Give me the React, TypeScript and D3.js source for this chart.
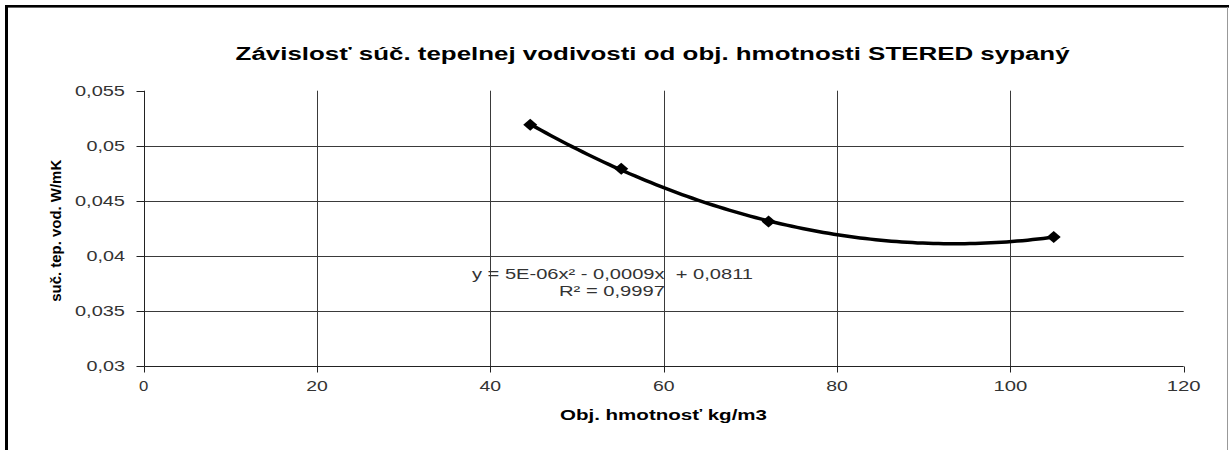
import React from "react";
import * as d3 from "d3";

const title = "Závislosť súč. tepelnej vodivosti od obj. hmotnosti STERED sypaný";
const xLabel = "Obj. hmotnosť kg/m3";
const yLabel = "suč. tep. vod. W/mK";
const xValues = [44.6, 55.1, 72.1, 105.0];
const yValues = [0.0519, 0.0479, 0.0431, 0.0417];
const xTicks = [0, 20, 40, 60, 80, 100, 120];
const yTicks = [0.03, 0.035, 0.04, 0.045, 0.05, 0.055];
const equationText = "y = 5E-06x² - 0,0009x  + 0,0811";
const r2Text = "R² = 0,9997";

function fitQuadratic(xs: number[], ys: number[]): [number, number, number] {
  const S = (f: (x: number, y: number) => number) =>
    xs.reduce((s, x, i) => s + f(x, ys[i]), 0);
  const n = xs.length;
  const sx = S((x) => x), sx2 = S((x) => x * x), sx3 = S((x) => x ** 3), sx4 = S((x) => x ** 4);
  const sy = S((_, y) => y), sxy = S((x, y) => x * y), sx2y = S((x, y) => x * x * y);
  const M = [
    [sx4, sx3, sx2, sx2y],
    [sx3, sx2, sx, sxy],
    [sx2, sx, n, sy],
  ];
  for (let i = 0; i < 3; i++) {
    let p = i;
    for (let r = i + 1; r < 3; r++) if (Math.abs(M[r][i]) > Math.abs(M[p][i])) p = r;
    [M[i], M[p]] = [M[p], M[i]];
    for (let r = 0; r < 3; r++) {
      if (r === i) continue;
      const f = M[r][i] / M[i][i];
      for (let c = i; c < 4; c++) M[r][c] -= f * M[i][c];
    }
  }
  return [M[0][3] / M[0][0], M[1][3] / M[1][1], M[2][3] / M[2][2]];
}

const fmt = (v: number) => String(+v.toFixed(3)).replace(".", ",");

export default function App() {
  const W = 1229, H = 450;
  const x = d3.scaleLinear().domain([0, 120]).range([143.7, 1183.7]);
  const y = d3.scaleLinear().domain([0.03, 0.055]).range([365.7, 90.7]);
  const [a, b, c] = fitQuadratic(xValues, yValues);
  const x0 = d3.min(xValues)!, x1 = d3.max(xValues)!;
  const curvePts = d3.range(0, 101).map((i) => {
    const xv = x0 + ((x1 - x0) * i) / 100;
    return [xv, a * xv * xv + b * xv + c] as [number, number];
  });
  const line = d3.line<[number, number]>().x((d) => x(d[0])).y((d) => y(d[1]));
  const font = "'Liberation Sans', Arial, sans-serif";
  const gridColor = "#3a3a3a";
  const top = y(0.055), bottom = y(0.03), left = x(0), right = x(120);
  const ax = Math.round(left) + 0.5;
  const ay = Math.round(bottom) + 0.5;
  const diamond = (cx: number, cy: number) =>
    `M${cx - 7},${cy} L${cx},${cy - 6} L${cx + 7},${cy} L${cx},${cy + 6} Z`;

  return (
    <svg
      width={W}
      height={H}
      style={{ position: "absolute", left: 0, top: 0, background: "#fff" }}
      fontFamily={font}
    >
      <rect x={0} y={0} width={W} height={H} fill="#fff" />
      <rect x={5} y={5} width={1224} height={2.6} fill="#000" />
      <rect x={5} y={5} width={3} height={445} fill="#000" />
      <rect x={1227} y={7} width={1} height={443} fill="#999" />

      <text x={652.6} y={60} textAnchor="middle" fontSize={17.5} fontWeight="bold" textLength={834} lengthAdjust="spacingAndGlyphs" fill="#000">
        {title}
      </text>

      {yTicks.filter((t) => t > 0.03 && t < 0.055).map((t) => {
        const yy = Math.round(y(t)) + 0.5;
        return <line key={"h" + t} x1={ax} x2={right} y1={yy} y2={yy} stroke={gridColor} strokeWidth={1} />;
      })}
      {xTicks.filter((t) => t > 0 && t < 120).map((t) => {
        const xx = Math.round(x(t)) + 0.5;
        return <line key={"v" + t} x1={xx} x2={xx} y1={top} y2={ay} stroke={gridColor} strokeWidth={1} />;
      })}

      <line x1={ax} x2={ax} y1={top} y2={ay} stroke="#222" strokeWidth={1} />
      <line x1={ax} x2={right} y1={ay} y2={ay} stroke="#222" strokeWidth={1} />
      {yTicks.map((t) => {
        const yy = Math.round(y(t)) + 0.5;
        const label = fmt(t);
        return (
          <g key={"yt" + t}>
            <line x1={ax - 8} x2={ax} y1={yy} y2={yy} stroke="#222" strokeWidth={1} />
            <text x={125} y={y(t) + 5} textAnchor="end" fontSize={14} fill="#333" textLength={11.5 * label.length - 7.5} lengthAdjust="spacingAndGlyphs">
              {label}
            </text>
          </g>
        );
      })}
      {xTicks.map((t) => {
        const xx = Math.round(x(t)) + 0.5;
        const label = String(t);
        return (
          <g key={"xt" + t}>
            <line x1={xx} x2={xx} y1={ay} y2={ay + 6} stroke="#222" strokeWidth={1} />
            <text x={x(t)} y={391} textAnchor="middle" fontSize={14} fill="#333" textLength={12.3 * label.length - 3} lengthAdjust="spacingAndGlyphs">
              {label}
            </text>
          </g>
        );
      })}

      <text x={663.5} y={420} textAnchor="middle" fontSize={14} fontWeight="bold" fill="#000" textLength={207} lengthAdjust="spacingAndGlyphs">
        {xLabel}
      </text>
      <text transform="translate(61,230.8) rotate(-90)" textAnchor="middle" fontSize={15.5} fontWeight="bold" fill="#000" textLength={142} lengthAdjust="spacingAndGlyphs">
        {yLabel}
      </text>

      <path d={line(curvePts) || ""} fill="none" stroke="#000" strokeWidth={3.5} />
      {xValues.map((xv, i) => (
        <path key={"m" + i} d={diamond(x(xv), y(yValues[i]))} fill="#000" />
      ))}

      <text x={612.5} y={279} textAnchor="middle" fontSize={15} fill="#333" textLength={281} lengthAdjust="spacingAndGlyphs" xmlSpace="preserve">
        {equationText}
      </text>
      <text x={612} y={296} textAnchor="middle" fontSize={15} fill="#333" textLength={106} lengthAdjust="spacingAndGlyphs">
        {r2Text}
      </text>
    </svg>
  );
}
